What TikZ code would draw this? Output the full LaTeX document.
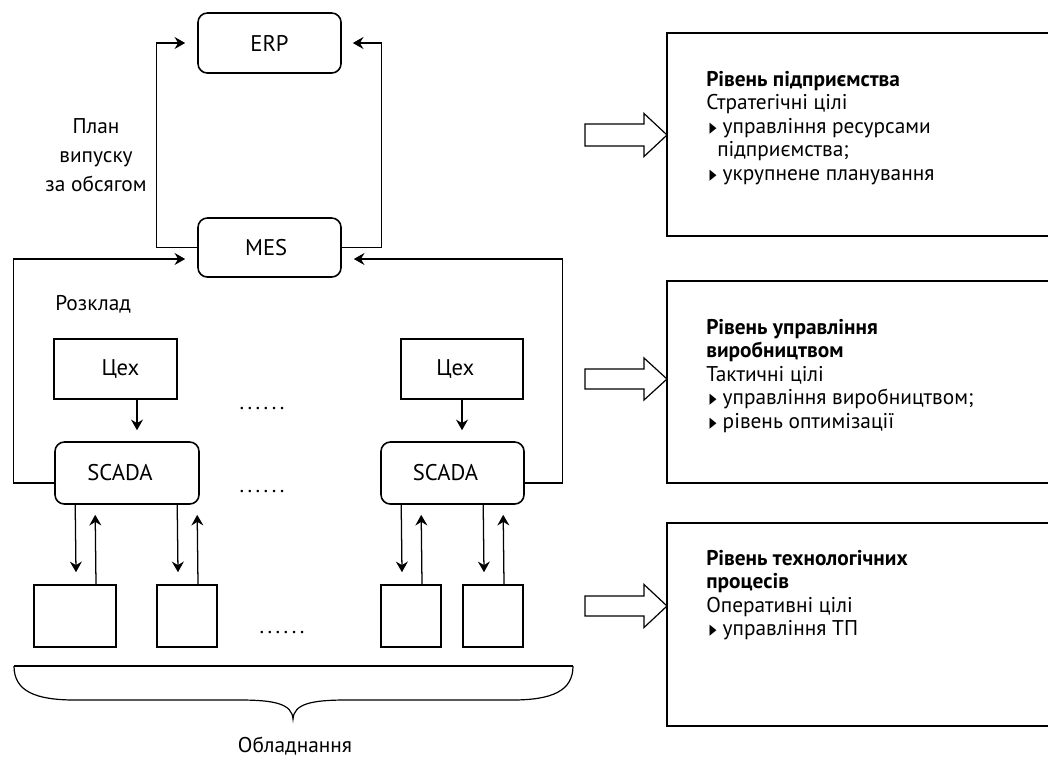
\documentclass[tikz,border=0pt]{standalone}
\usepackage{fontspec}
\setmainfont{PT Sans}
\newfontfamily\symfont{DejaVu Sans}
\usetikzlibrary{arrows.meta,calc}
\newcommand\tribul{\makebox[9.75pt][l]{\raisebox{0.9pt}{\scalebox{0.62}[1]{\symfont\fontsize{11}{11}\selectfont ▶}}}}
\begin{document}
\begin{tikzpicture}[x=0.75pt,y=-0.75pt,
  lbl/.style={font=\fontsize{16}{22}\selectfont, inner sep=0pt},
  rbox/.style={draw, rounded corners=7pt, line width=1.2pt, inner sep=0pt, font=\fontsize{17}{18}\selectfont},
  sbox/.style={draw, line width=1.2pt, inner sep=0pt, font=\fontsize{17}{18}\selectfont},
  conn/.style={line width=0.95pt, -{Stealth[length=8pt,width=9pt,inset=2.7pt]}},
  lvl/.style={line width=1.3pt},
  blk/.style={line width=0.9pt, line join=miter},
  info/.style={align=left, anchor=north west, inner sep=0pt, font=\fontsize{16}{17.6}\selectfont},
  dots/.style={font=\fontsize{16}{18}\selectfont, inner sep=0pt},
]
\useasboundingbox (0,0) rectangle (1048,765);

% top level
\node[rbox, minimum width=107.25pt, minimum height=45pt] (ERP) at (269.5,43) {ERP};
\node[rbox, minimum width=107.25pt, minimum height=44.25pt] (MES) at (269.5,247.5) {MES\hspace*{5pt}};
\node[lbl, align=center] (plan) at (96,155) {План\\випуску\\за обсягом};

\draw[conn] (MES.west) -- ++(-41,0) |- ($(ERP.west)+(-12,0)$);
\draw[conn] (MES.east) -- ++(40,0) |- ($(ERP.east)+(11,0)$);

\node[lbl, anchor=west] (rozklad) at (55,304) {Розклад};

% workshops
\node[sbox, minimum width=92.25pt, minimum height=45pt] (C1) at (115.5,369) {\hspace*{7.5pt}Цех};
\node[sbox, minimum width=91.5pt, minimum height=45pt] (C2) at (462,369) {Цех\hspace*{10pt}};
\node[rbox, minimum width=108pt, minimum height=46.5pt] (S1) at (127,473) {SCADA\hspace*{10.5pt}};
\node[rbox, minimum width=107.25pt, minimum height=46.5pt] (S2) at (452.5,473) {SCADA\hspace*{10.5pt}};

\node[dots] (d1) at (262,409) {.\kern2.6pt.\kern2.6pt.\kern2.6pt.\kern2.6pt.\kern2.6pt.};
\node[dots] (d2) at (262,492) {.\kern2.6pt.\kern2.6pt.\kern2.6pt.\kern2.6pt.\kern2.6pt.};

\draw[conn] ($(C1.south)+(21.5,0)$) -- ($(S1.north)+(10,-11)$);
\draw[conn] (C2.south) -- ($(S2.north)+(9.5,-11)$);

\draw[conn] ($(S1.west)+(0,10)$) -- ++(-41,0) |- ($(MES.west)+(-12,11.5)$);
\draw[conn] ($(S2.east)+(0,10)$) -- ++(38,0) |- ($(MES.east)+(12,11.5)$);

% equipment
\node[sbox, minimum width=61.5pt, minimum height=46.5pt] (E1) at (75,616) {};
\node[sbox, minimum width=45pt, minimum height=46.5pt] (E2) at (187,616) {};
\node[sbox, minimum width=45pt, minimum height=46.5pt] (E3) at (411,616) {};
\node[sbox, minimum width=45pt, minimum height=46.5pt] (E4) at (493,616) {};
\node[dots] (d3) at (282,633) {.\kern2.6pt.\kern2.6pt.\kern2.6pt.\kern2.6pt.\kern2.6pt.};

\draw[conn] ($(S1.south west)+(21,0)$) -- ($(E1.north)+(1,-12)$);
\draw[conn] ($(E1.north)+(21,0)$) -- ($(S1.south west)+(41,10)$);
\draw[conn] ($(S1.south west)+(123,0)$) -- ($(E2.north)+(-9,-12)$);
\draw[conn] ($(E2.north)+(11,0)$) -- ($(S1.south west)+(143,10)$);
\draw[conn] ($(S2.south west)+(21,0)$) -- ($(E3.north)+(-9,-12)$);
\draw[conn] ($(E3.north)+(11,0)$) -- ($(S2.south west)+(41,10)$);
\draw[conn] ($(S2.south west)+(103,0)$) -- ($(E4.north)+(-9,-12)$);
\draw[conn] ($(E4.north)+(11,0)$) -- ($(S2.south west)+(123,10)$);

% brace
\draw[line width=0.9pt] (14,666) -- (573,666);
\draw[line width=0.9pt] (14,666) .. controls (14,691) and (35,700) .. (75,700)
  -- (240,700) .. controls (275,700) and (292,704) .. (293,719)
  .. controls (294,704) and (311,700) .. (346,700)
  -- (512,700) .. controls (552,700) and (573,691) .. (573,666);
\node[lbl] (obl) at (295,746) {Обладнання};

% right level boxes
\draw[lvl] (1049,33) -- (667,33) -- (667,236) -- (1049,236);
\draw[lvl] (1049,281) -- (667,281) -- (667,483) -- (1049,483);
\draw[lvl] (1049,523) -- (667,523) -- (667,726) -- (1049,726);

% block arrows
\draw[blk] (585,124) -- (644,124) -- (644,113.5) -- (667,135) -- (644,156.5) -- (644,146) -- (585,146) -- cycle;
\draw[blk] (585,369) -- (644,369) -- (644,358) -- (667,379) -- (644,400) -- (644,389) -- (585,389) -- cycle;
\draw[blk] (585,596) -- (644,596) -- (644,584.5) -- (667,606) -- (644,627.5) -- (644,616) -- (585,616) -- cycle;

\node[info] (t1) at (706,71) {\textbf{Рівень підприємства}\\
Стратегічні цілі\\
\hspace*{2.6pt}\tribul управління ресурсами\\
\hspace*{8.25pt}підприємства;\\
\hspace*{2.6pt}\tribul укрупнене планування};

\node[info] (t2) at (706,319) {\textbf{Рівень управління}\\
\textbf{виробництвом}\\
Тактичні цілі\\
\hspace*{2.6pt}\tribul управління виробництвом;\\
\hspace*{2.6pt}\tribul рівень оптимізації};

\node[info] (t3) at (706,550) {\textbf{Рівень технологічних}\\
\textbf{процесів}\\
Оперативні цілі\\
\hspace*{2.6pt}\tribul управління ТП};
\end{tikzpicture}
\end{document}
